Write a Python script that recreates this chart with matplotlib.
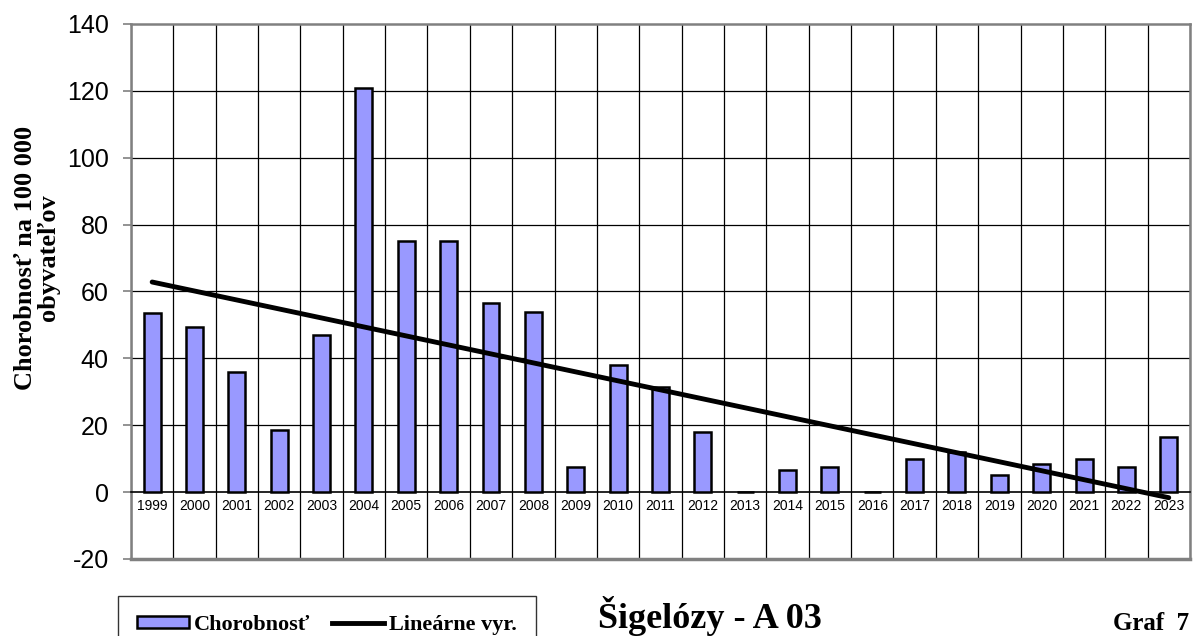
import numpy as np
import matplotlib
matplotlib.use("Agg")
import matplotlib.pyplot as plt
from matplotlib.patches import Patch
from matplotlib.lines import Line2D

years = ['1999', '2000', '2001', '2002', '2003', '2004', '2005', '2006', '2007',
         '2008', '2009', '2010', '2011', '2012', '2013', '2014', '2015', '2016',
         '2017', '2018', '2019', '2020', '2021', '2022', '2023']
chorobnost = [53.5, 49.5, 36.0, 18.5, 47.0, 121.0, 75.0, 75.0, 56.5, 54.0, 7.5,
              38.0, 31.5, 18.0, 0.0, 6.5, 7.5, 0.0, 10.0, 12.0, 5.0, 8.5, 10.0,
              7.5, 16.5]
y_ticks = [-20, 0, 20, 40, 60, 80, 100, 120, 140]

plt.rcParams['font.family'] = ['Liberation Sans', 'DejaVu Sans']
serif_bold = dict(family=['Liberation Serif', 'DejaVu Serif'], weight='bold')

fig = plt.figure(figsize=(11.94, 6.36), dpi=100)
ax = fig.add_axes([0.1097, 0.1211, 0.8869, 0.8412])

x = np.arange(len(years))
ax.bar(x, chorobnost, width=0.4, color='#9999FF', edgecolor='black',
       linewidth=1.8, zorder=3)

# linear trend of the yearly values
k, q = np.polyfit(x, chorobnost, 1)
ax.plot([x[0], x[-1]], [k * x[0] + q, k * x[-1] + q], color='black',
        linewidth=3.5, solid_capstyle='round', zorder=4)

ax.set_xlim(-0.5, len(years) - 0.5)
ax.set_ylim(-20, 140)
ax.set_yticks(y_ticks)
ax.set_yticklabels([str(t) for t in y_ticks], fontsize=18)
ax.tick_params(axis='y', length=6, width=1.2, color='#808080', pad=10)

# horizontal grid at each 20 and vertical separators between years
for t in y_ticks[2:-1]:
    ax.axhline(t, color='black', linewidth=0.9, zorder=1)
for b in np.arange(len(years) + 1) - 0.5:
    ax.axvline(b, color='black', linewidth=0.9, zorder=1)

ax.set_xticks(x)
ax.set_xticklabels(years, fontsize=11.5)
ax.spines['bottom'].set_position(('data', 0))
ax.spines['bottom'].set_color('black')
ax.spines['bottom'].set_linewidth(1.2)
ax.tick_params(axis='x', length=0, pad=5)
for s in ['top', 'left', 'right']:
    ax.spines[s].set_color('#808080')
    ax.spines[s].set_linewidth(1.8)
ax.axhline(-20, color='#808080', linewidth=2.5, clip_on=False, zorder=5)

ax.set_ylabel('Chorobnosť na 100 000\nobyvateľov', fontsize=19,
              linespacing=0.95, **serif_bold)
ax.yaxis.set_label_coords(-0.0675, 0.5636)

handles = [Patch(facecolor='#9999FF', edgecolor='black', linewidth=1.8),
           Line2D([], [], color='black', linewidth=3.5)]
leg = fig.legend(handles, ['Chorobnosť', 'Lineárne vyr.'], ncol=2,
                 loc='upper left', bbox_to_anchor=(0.0988, 0.0629),
                 borderaxespad=0, frameon=True, fancybox=False,
                 edgecolor='black', handlelength=2.35, handleheight=0.5,
                 handletextpad=0.2, columnspacing=1.0, borderpad=0.85,
                 prop=dict(family=['Liberation Serif', 'DejaVu Serif'],
                           weight='bold', size=16))
leg.get_frame().set_linewidth(1.0)

fig.text(0.501, 0.013, 'Šigelózy - A 03', fontsize=26, va='baseline',
         ha='left', **serif_bold)
fig.text(0.996, 0.009, 'Graf  7', fontsize=18, va='baseline', ha='right',
         **serif_bold)

fig.savefig('out.png', dpi=100)
